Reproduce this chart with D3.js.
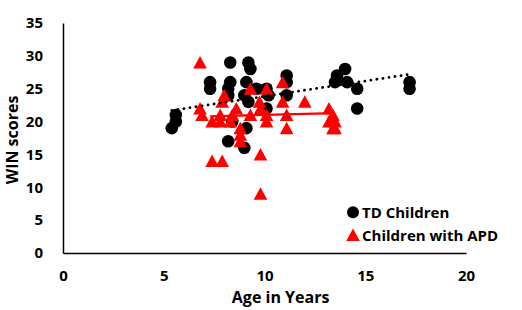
<!DOCTYPE html>
<html>
<head>
<meta charset="utf-8">
<script src="https://cdn.jsdelivr.net/npm/d3@7"></script>
<style>
    body { margin: 0; background: #fff; }
    svg text { font-family: "Open Sans", "Liberation Sans", sans-serif; font-weight: bold; fill: #000; }
</style>
</head>
<body>
<div id="chart"></div>
<script>
// TD children (age, WIN score)
let tdAge   = [5.4, 5.6, 5.6, 7.3, 7.3, 8.3, 8.3, 8.2, 8.2, 8.2, 9.2, 9.3, 9.1, 9.0, 9.2, 9.1, 9.0, 8.4, 10.1, 10.2, 10.1, 11.1, 11.1, 11.1, 14.0, 13.6, 13.5, 14.1, 14.6, 14.6, 17.2, 17.2, 9.6];
let tdScore = [19,  20,  21,  26,  25,  29,  26,  25,  24,  17,  29,  28,  26,  24,  23,  19,  16,  20,  25,   24,   22,   27,   26,   24,   28,   27,   26,   26,   25,   22,   26,   25,   25];

// Children with APD (age, WIN score)
let apdAge   = [6.8, 6.8, 6.9, 7.4, 7.4, 7.9, 8.0, 7.9, 7.8, 7.8, 8.6, 8.4, 8.8, 8.8, 8.8, 9.3, 9.3, 9.75, 9.8, 9.8, 10.1, 10.1, 10.1, 9.8, 10.9, 10.9, 11.1, 11.1, 12.0, 13.2, 13.2, 13.4, 13.5, 13.4, 13.5, 8.3];
let apdScore = [29,  22,  21,  20,  14,  14,  24,  23,  21,  20,  22,  21,  19,  18,  17,  25,  21,  23,   15,  9,   21,   20,   25,   22,  26,   23,   21,   19,   23,   22,   20,   21,   20,   19,   19,   20];

// trendline end points
let tdTrend  = [[5.4, 21.7], [17.2, 27.2]];
let apdTrend = [[7.3, 20.8], [13.5, 21.3]];

let xTicks = [0, 5, 10, 15, 20];
let yTicks = [0, 5, 10, 15, 20, 25, 30, 35];

let legendItems = ["TD Children", "Children with APD"];

let width = 522, height = 310;
let margin = {top: 23, right: 56, bottom: 57, left: 63};

let svg = d3.select("#chart").append("svg")
    .attr("width", width)
    .attr("height", height);

let xScale = d3.scaleLinear().domain([0, 20]).range([margin.left, width - margin.right]);
let yScale = d3.scaleLinear().domain([0, 35]).range([height - margin.bottom, margin.top]);

// axes (lines only, no tick marks)
let xAxis = d3.axisBottom(xScale).tickValues(xTicks).tickSize(0).tickPadding(17);
let yAxis = d3.axisLeft(yScale).tickValues(yTicks).tickSize(0).tickPadding(20);

svg.append("g")
    .attr("class", "x-axis")
    .attr("transform", `translate(0, ${yScale(0)})`)
    .call(xAxis);
svg.append("g")
    .attr("class", "y-axis")
    .attr("transform", `translate(${xScale(0)}, 0)`)
    .call(yAxis);

svg.selectAll(".x-axis .domain, .y-axis .domain")
    .attr("stroke", "#000")
    .attr("stroke-width", 1.5);
svg.selectAll(".x-axis text, .y-axis text")
    .style("font-size", "15px")
    .style("font-family", "'Open Sans', sans-serif")
    .style("font-weight", "bold");

// axis titles
svg.append("text")
    .text("Age in Years")
    .attr("x", xScale(10.8))
    .attr("y", 303)
    .attr("text-anchor", "middle")
    .style("font-size", "16px");
svg.append("text")
    .text("WIN scores")
    .attr("transform", `translate(18, ${yScale(17.2)}) rotate(-90)`)
    .attr("text-anchor", "middle")
    .style("font-size", "16px");

// TD points
let tdData = tdAge.map((a, i) => ({age: a, score: tdScore[i]}));
let apdData = apdAge.map((a, i) => ({age: a, score: apdScore[i]}));

svg.append("g").attr("class", "td-points")
    .selectAll("circle")
    .data(tdData)
    .enter().append("circle")
    .attr("cx", d => xScale(d.age))
    .attr("cy", d => yScale(d.score))
    .attr("r", 6.3)
    .attr("fill", "#000");

let triPath = "M0,-6.5L6.8,6L-6.8,6Z";

svg.append("g").attr("class", "apd-points")
    .selectAll("path")
    .data(apdData)
    .enter().append("path")
    .attr("d", triPath)
    .attr("transform", d => `translate(${xScale(d.age)}, ${yScale(d.score)})`)
    .attr("fill", "#ff0000");

// trendlines
let line = d3.line().x(d => xScale(d[0])).y(d => yScale(d[1]));
svg.append("path")
    .datum(tdTrend)
    .attr("d", line)
    .attr("fill", "none")
    .attr("stroke", "#000")
    .attr("stroke-width", 2.8)
    .attr("stroke-linecap", "round")
    .attr("stroke-dasharray", "0.1,6");
svg.append("path")
    .datum(apdTrend)
    .attr("d", line)
    .attr("fill", "none")
    .attr("stroke", "#ff0000")
    .attr("stroke-width", 2.2);

// legend
let legend = svg.append("g").attr("class", "legend");
legend.append("circle")
    .attr("cx", 353).attr("cy", 212.3).attr("r", 6)
    .attr("fill", "#000");
legend.append("path")
    .attr("d", triPath)
    .attr("transform", "translate(353, 235)")
    .attr("fill", "#ff0000");
legend.selectAll(".legend-text")
    .data(legendItems)
    .enter().append("text")
    .attr("class", "legend-text")
    .attr("x", 362)
    .attr("y", (d, i) => 217.5 + i * 23)
    .text(d => d)
    .style("font-size", "15px");
</script>
</body>
</html>
